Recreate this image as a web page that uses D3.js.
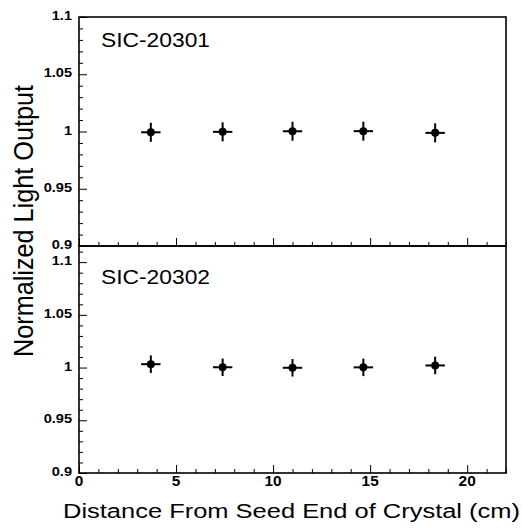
<!DOCTYPE html>
<html>
<head>
<meta charset="utf-8">
<script src="https://cdn.jsdelivr.net/npm/d3@7"></script>
<style>
  html, body { margin: 0; padding: 0; background: #fff; }
  svg { display: block; }
  text { font-family: "Liberation Sans", Arial, Helvetica, sans-serif; fill: #000; }
</style>
</head>
<body>
<script>
// Positions along the crystal (cm) and horizontal half-widths
const positions = [3.7, 7.4, 11.0, 14.65, 18.35];
const posErr = [0.5, 0.5, 0.5, 0.5, 0.5];

// Normalized light output for each crystal
const crystalNames = ["SIC-20301", "SIC-20302"];
const output20301 = [0.9993, 0.9997, 1.0002, 1.0003, 0.9988];
const output20302 = [1.0032, 1.0003, 0.9998, 1.0002, 1.0020];
const outputErr = [0.0083, 0.0083, 0.0083, 0.0083, 0.0083];

// Tick labels
const xTicks = [0, 5, 10, 15, 20];
const yTicks = [0.9, 0.95, 1, 1.05, 1.1];

const W = 522, H = 530;
const svg = d3.select("body").append("svg").attr("width", W).attr("height", H);

// widen a text element horizontally by a factor
function widen(sel, factor) {
  sel.each(function () {
    const n = this.getComputedTextLength();
    d3.select(this).attr("textLength", n * factor).attr("lengthAdjust", "spacingAndGlyphs");
  });
}

const left = 79, right = 506;
const x = d3.scaleLinear().domain([0, 22]).range([left, right]);

const panels = [
  { name: crystalNames[0], values: output20301, top: 17, bottom: 246, domain: [0.9, 1.1], labelY: 47 },
  { name: crystalNames[1], values: output20302, top: 246, bottom: 473, domain: [0.9, 1.1153], labelY: 284 }
];

panels.forEach(p => {
  const y = d3.scaleLinear().domain(p.domain).range([p.bottom, p.top]);
  const g = svg.append("g");

  // y axis: major ticks every 0.05, minor ticks every 0.01
  const yAxis = d3.axisRight(y)
    .tickValues(d3.range(90, 112).map(v => v / 100).filter(v => v <= p.domain[1] + 1e-9))
    .tickSize(4)
    .tickFormat("");
  const ya = g.append("g").attr("transform", `translate(${left},0)`).call(yAxis);
  ya.select(".domain").remove();
  ya.selectAll(".tick line")
    .attr("x2", d => (Math.round(d * 100) % 5 === 0 ? 8 : 4))
    .attr("stroke", "#000").attr("stroke-width", 1);

  const yl = g.selectAll(".ylab").data(yTicks).join("text")
    .attr("class", "ylab")
    .attr("x", left - 7)
    .attr("y", d => y(d) + 3)
    .attr("text-anchor", "end")
    .attr("font-size", 13)
    .attr("font-weight", "bold")
    .text(d => d3.format("")(d));
  widen(yl, 1.12);

  // x axis ticks along the bottom of each panel
  const xAxis = d3.axisTop(x).tickValues(d3.range(0, 23)).tickSize(4).tickFormat("");
  const xa = g.append("g").attr("transform", `translate(0,${p.bottom})`).call(xAxis);
  xa.select(".domain").remove();
  xa.selectAll(".tick line")
    .attr("y2", d => (d % 5 === 0 ? -8 : -4))
    .attr("stroke", "#000").attr("stroke-width", 1);

  // frame
  g.append("rect")
    .attr("x", left).attr("y", p.top)
    .attr("width", right - left).attr("height", p.bottom - p.top)
    .attr("fill", "none").attr("stroke", "#000").attr("stroke-width", 1.6);

  // panel label
  g.append("text")
    .attr("x", 101).attr("y", p.labelY)
    .attr("font-size", 19.5)
    .attr("textLength", 109).attr("lengthAdjust", "spacingAndGlyphs")
    .text(p.name);

  // points with error bars
  const pts = positions.map((d, i) => ({ x: d, ex: posErr[i], y: p.values[i], ey: outputErr[i] }));
  const pg = g.selectAll(".pt").data(pts).join("g").attr("class", "pt");
  pg.append("line")
    .attr("x1", d => x(d.x - d.ex)).attr("x2", d => x(d.x + d.ex))
    .attr("y1", d => y(d.y)).attr("y2", d => y(d.y))
    .attr("stroke", "#000").attr("stroke-width", 2);
  pg.append("line")
    .attr("x1", d => x(d.x)).attr("x2", d => x(d.x))
    .attr("y1", d => y(d.y - d.ey)).attr("y2", d => y(d.y + d.ey))
    .attr("stroke", "#000").attr("stroke-width", 2);
  pg.append("circle")
    .attr("cx", d => x(d.x)).attr("cy", d => y(d.y))
    .attr("r", 4).attr("fill", "#000");
});

// x tick labels under the lower panel
const xl = svg.selectAll(".xlab").data(xTicks).join("text")
  .attr("class", "xlab")
  .attr("x", d => x(d))
  .attr("y", 486)
  .attr("text-anchor", "middle")
  .attr("font-size", 14)
  .attr("font-weight", "bold")
  .text(d => d);
widen(xl, 1.1);

// axis titles
svg.append("text")
  .attr("x", 63).attr("y", 518)
  .attr("font-size", 19.5)
  .attr("textLength", 457).attr("lengthAdjust", "spacingAndGlyphs")
  .text("Distance From Seed End of Crystal (cm)");

svg.append("text")
  .attr("transform", "translate(33,357) rotate(-90)")
  .attr("font-size", 27)
  .attr("textLength", 272).attr("lengthAdjust", "spacingAndGlyphs")
  .text("Normalized Light Output");
</script>
</body>
</html>
